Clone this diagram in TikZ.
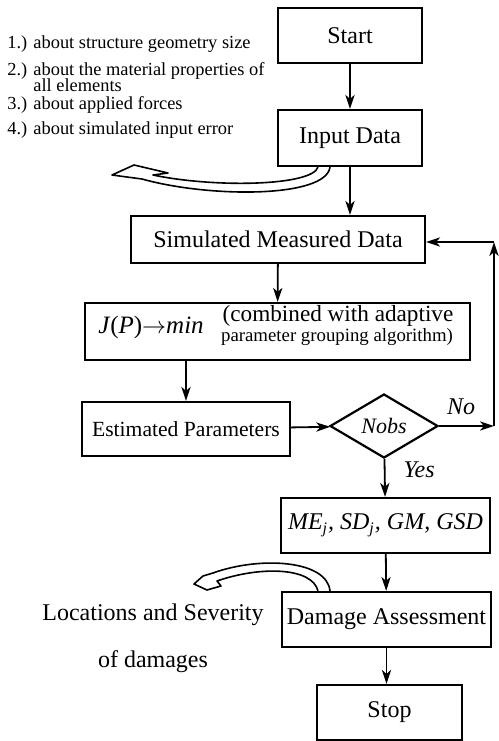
\documentclass[tikz,border=0pt]{standalone}
\usepackage{fontspec}
\setmainfont{Liberation Serif}
\usetikzlibrary{arrows.meta,shapes.geometric}

\begin{document}
\begin{tikzpicture}[x=0.5pt,y=-0.5pt,
  box/.style={draw,line width=1.1pt,minimum height=27.5pt,inner sep=0pt,
     font=\fontsize{12}{14}\selectfont},
  flow/.style={line width=0.9pt,-{Stealth[length=7pt,width=4.6pt,inset=2pt]}},
  note/.style={anchor=base west,inner sep=0pt,font=\fontsize{9.2}{11}\selectfont},
  tag/.style={inner sep=0pt,font=\fontsize{12}{14}\selectfont},
  hollow/.style={line width=0.8pt,line join=round}]
\useasboundingbox (0,0) rectangle (499,741);
% main column
\node[box,minimum width=72pt] (start) at (350,35.5) {Start};
\node[box,minimum width=72pt,minimum height=28pt] (inp) at (350,138) {Input Data};
\node[box,minimum width=147pt,minimum height=23.5pt] (smd) at (278,239.5) {Simulated Measured Data};
\node[box,minimum width=192.5pt,minimum height=28.5pt] (jp) at (277.5,331.5) {};
\node[tag,font=\fontsize{12.5}{14}\selectfont] (jpf) at (151,327) {\textit{J}(\textit{P})$\rightarrow$\textit{min}};
\node[tag,font=\fontsize{11.6}{13}\selectfont] (jpa) at (338,316) {(combined with adaptive};
\node[tag,font=\fontsize{9.4}{11}\selectfont] (jpb) at (337,337) {parameter grouping algorithm)};
\node[box,minimum width=104pt,minimum height=27pt,font=\fontsize{10.8}{12}\selectfont] (est) at (186,429) {Estimated Parameters};
\node[draw,diamond,line width=1.1pt,minimum width=54pt,minimum height=32pt,inner sep=0pt,
  font=\fontsize{11}{12}\selectfont\itshape] (nobs) at (384,426) {Nobs};
\node[box,minimum width=104.5pt,font=\fontsize{12}{14}\selectfont\itshape] (me) at (385.5,525.5) {ME\textsubscript{j}, SD\textsubscript{j}, GM, GSD};
\node[box,minimum width=104.5pt] (da) at (386.5,619.5) {Damage Assessment};
\node[box,minimum width=72.5pt] (stop) at (389.5,712.5) {Stop};
% side texts
\node[note] (n1) at (7,48) {1.) about structure geometry size};
\node[note] (n2) at (7,75) {2.) about the material properties of};
\node[note] (n2b) at (33,91) {all elements};
\node[note] (n3) at (7,109) {3.) about applied forces};
\node[note] (n4) at (7,134) {4.) about simulated input error};
\node[tag] (loc) at (153,615) {Locations and Severity};
\node[tag] (dmg) at (153,662) {of damages};
% loop corners
\coordinate (c1) at (494,426);
\coordinate (c2) at (494,242);
% arrows
\draw[flow] (start) -- (inp);
\draw[flow] (inp) -- (inp|-smd.north);
\draw[flow] (smd) -- (jp);
\draw[flow] (est|-jp.south) -- (est);
\draw[flow] (est) -- (nobs);
\draw[flow] (nobs) -- node[tag,above=5pt,pos=0.4,font=\fontsize{12}{14}\selectfont\itshape]{No} (c1);
\draw[flow] (c1) -- (c2);
\draw[flow] (c2) -- (smd.east|-c2);
\draw[flow] (nobs) -- node[tag,right=9pt,pos=0.3,font=\fontsize{12}{14}\selectfont\itshape]{Yes} (me);
\draw[flow] (me) -- (da);
\draw[flow] (da) -- (da|-stop.north);
% hollow arrows
\draw[hollow] ([xshift=-10pt]inp.south) .. controls (326,198) and (210,198) .. (142,179)
  -- (112,175) -- (134,165) -- (168,173) -- (153,175)
  .. controls (215,188) and (312,186) .. ([xshift=-16pt]inp.south);
\draw[hollow] ([xshift=-28.25pt]da.north) .. controls (327,560) and (260,556) .. (213,573)
  -- (203,576) -- (194,584) -- (207,590) -- (221,586) -- (217,581)
  .. controls (260,566) and (312,567) .. ([xshift=-34.25pt]da.north);
\end{tikzpicture}
\end{document}
